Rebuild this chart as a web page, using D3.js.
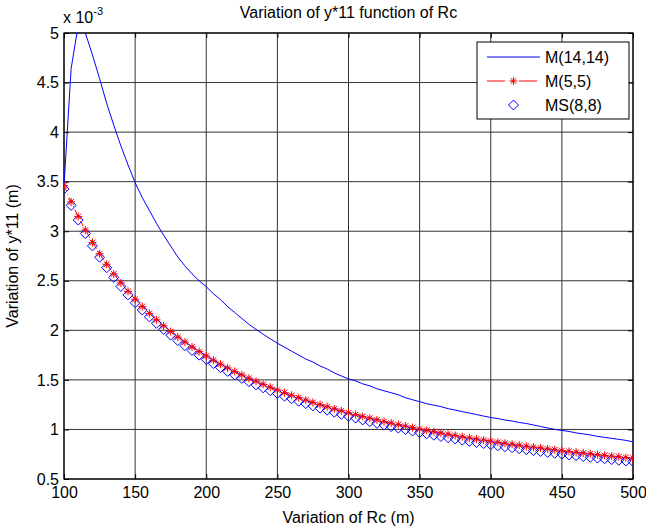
<!DOCTYPE html>
<html>
<head>
<meta charset="utf-8">
<script src="https://cdn.jsdelivr.net/npm/d3@7"></script>
<style>
  body { margin: 0; background: #fff; }
  text { font-family: "Liberation Sans", Arial, sans-serif; fill: #000; }
</style>
</head>
<body>
<div id="chart"></div>
<script>
// Rc values (m)
const rc = [100, 105, 110, 115, 120, 125, 130, 135, 140, 145, 150, 155, 160, 165, 170, 175, 180, 185, 190, 195,
    200, 205, 210, 215, 220, 225, 230, 235, 240, 245, 250, 255, 260, 265, 270, 275, 280, 285, 290, 295,
    300, 305, 310, 315, 320, 325, 330, 335, 340, 345, 350, 355, 360, 365, 370, 375, 380, 385, 390, 395,
    400, 405, 410, 415, 420, 425, 430, 435, 440, 445, 450, 455, 460, 465, 470, 475, 480, 485, 490, 495, 500];

// y*11 in units of 1e-3 m
const m14 = [3.46, 4.64, 5.08, 5.00, 4.78, 4.54, 4.29, 4.07, 3.86, 3.67, 3.49, 3.34, 3.21, 3.08, 2.96, 2.85, 2.74, 2.65, 2.57, 2.50,
    2.44, 2.37, 2.31, 2.24, 2.18, 2.12, 2.06, 2.01, 1.96, 1.915, 1.87, 1.83, 1.79, 1.75, 1.71, 1.68, 1.64, 1.61, 1.57, 1.54,
    1.51, 1.49, 1.46, 1.44, 1.41, 1.39, 1.37, 1.35, 1.32, 1.30, 1.28, 1.26, 1.245, 1.23, 1.21, 1.195, 1.18, 1.165, 1.15, 1.135,
    1.12, 1.11, 1.095, 1.085, 1.07, 1.06, 1.045, 1.03, 1.015, 1.00, 0.99, 0.98, 0.965, 0.955, 0.945, 0.93, 0.92, 0.91, 0.90, 0.89, 0.875];

const m5 = [3.460, 3.296, 3.148, 3.012, 2.887, 2.773, 2.667, 2.569, 2.478, 2.393, 2.314, 2.240, 2.171, 2.106, 2.045, 1.987, 1.932, 1.881, 1.832, 1.785,
    1.741, 1.699, 1.659, 1.621, 1.585, 1.550, 1.517, 1.485, 1.455, 1.426, 1.398, 1.371, 1.345, 1.320, 1.296, 1.273, 1.250, 1.229, 1.208, 1.188,
    1.168, 1.150, 1.131, 1.114, 1.097, 1.080, 1.064, 1.049, 1.034, 1.019, 1.005, 0.991, 0.977, 0.964, 0.952, 0.939, 0.927, 0.915, 0.904, 0.893,
    0.882, 0.871, 0.861, 0.851, 0.841, 0.831, 0.822, 0.813, 0.804, 0.795, 0.786, 0.778, 0.770, 0.762, 0.754, 0.746, 0.739, 0.731, 0.724, 0.717, 0.710];

const ms8 = [3.425, 3.261, 3.113, 2.977, 2.852, 2.738, 2.632, 2.534, 2.443, 2.358, 2.279, 2.205, 2.136, 2.071, 2.010, 1.952, 1.897, 1.846, 1.797, 1.750,
    1.706, 1.664, 1.624, 1.586, 1.550, 1.515, 1.482, 1.450, 1.420, 1.391, 1.363, 1.336, 1.310, 1.285, 1.261, 1.238, 1.215, 1.194, 1.173, 1.153,
    1.133, 1.115, 1.096, 1.079, 1.062, 1.045, 1.029, 1.014, 0.999, 0.984, 0.970, 0.956, 0.942, 0.929, 0.917, 0.904, 0.892, 0.880, 0.869, 0.858,
    0.847, 0.836, 0.826, 0.816, 0.806, 0.796, 0.787, 0.778, 0.769, 0.760, 0.751, 0.743, 0.735, 0.727, 0.719, 0.711, 0.704, 0.696, 0.689, 0.682, 0.675];

const xTicks = [100, 150, 200, 250, 300, 350, 400, 450, 500];
const yTicks = [0.5, 1, 1.5, 2, 2.5, 3, 3.5, 4, 4.5, 5];
const legendNames = ["M(14,14)", "M(5,5)", "MS(8,8)"];

const width = 646, height = 531;
const margin = {top: 33, right: 13, bottom: 52, left: 64};

const svg = d3.select("#chart")
    .append("svg")
    .attr("width", width)
    .attr("height", height);

const x = d3.scaleLinear().domain([100, 500]).range([margin.left, width - margin.right]);
const y = d3.scaleLinear().domain([0.5, 5]).range([height - margin.bottom, margin.top]);

svg.append("clipPath").attr("id", "clip")
    .append("rect")
    .attr("x", x(100)).attr("y", y(5))
    .attr("width", x(500) - x(100)).attr("height", y(0.5) - y(5));

// grid
svg.append("g").selectAll("line").data(xTicks).enter().append("line")
    .attr("x1", d => x(d)).attr("x2", d => x(d))
    .attr("y1", y(0.5)).attr("y2", y(5))
    .attr("stroke", "#333").attr("stroke-width", 1);
svg.append("g").selectAll("line").data(yTicks).enter().append("line")
    .attr("x1", x(100)).attr("x2", x(500))
    .attr("y1", d => y(d)).attr("y2", d => y(d))
    .attr("stroke", "#333").attr("stroke-width", 1);

// axes with inward ticks
const fs = "16px";
svg.append("g").attr("transform", `translate(0,${y(0.5)})`)
    .call(d3.axisBottom(x).tickValues(xTicks).tickSize(-5).tickPadding(8).tickSizeOuter(0));
svg.append("g").attr("transform", `translate(${x(100)},0)`)
    .call(d3.axisLeft(y).tickValues(yTicks).tickSize(-5).tickPadding(5).tickSizeOuter(0).tickFormat(d3.format("")));
svg.append("g").attr("transform", `translate(0,${y(5)})`)
    .call(d3.axisTop(x).tickValues(xTicks).tickSize(-5).tickSizeOuter(0).tickFormat(""));
svg.append("g").attr("transform", `translate(${x(500)},0)`)
    .call(d3.axisRight(y).tickValues(yTicks).tickSize(-5).tickSizeOuter(0).tickFormat(""));
svg.selectAll(".domain").remove();
svg.selectAll(".tick line").attr("stroke", "#000");
svg.selectAll(".tick text").style("font-size", fs).style("font-family", "Liberation Sans, Arial, sans-serif");

// box
svg.append("rect")
    .attr("x", x(100)).attr("y", y(5))
    .attr("width", x(500) - x(100)).attr("height", y(0.5) - y(5))
    .attr("fill", "none").attr("stroke", "#000").attr("stroke-width", 1.2);

const plot = svg.append("g").attr("clip-path", "url(#clip)");
const line = d3.line().x((d, i) => x(rc[i])).y(d => y(d));

plot.append("path").datum(m14)
    .attr("d", line).attr("fill", "none").attr("stroke", "#0000ff").attr("stroke-width", 1);

function starPath(cx, cy, r) {
    const a = r * 0.72;
    return `M${cx - r},${cy}L${cx + r},${cy}M${cx},${cy - r}L${cx},${cy + r}` +
        `M${cx - a},${cy - a}L${cx + a},${cy + a}M${cx - a},${cy + a}L${cx + a},${cy - a}`;
}
function diamondPath(cx, cy, r) {
    return `M${cx},${cy - r}L${cx + r},${cy}L${cx},${cy + r}L${cx - r},${cy}Z`;
}

plot.append("path").datum(m5)
    .attr("d", line).attr("fill", "none").attr("stroke", "#ff0000").attr("stroke-width", 1)
    .attr("stroke-dasharray", "6,3,1,3");

plot.append("g").selectAll("path").data(ms8).enter().append("path")
    .attr("d", (d, i) => diamondPath(x(rc[i]), y(d), 5))
    .attr("fill", "none").attr("stroke", "#0000ff").attr("stroke-width", 1);

plot.append("g").selectAll("path").data(m5).enter().append("path")
    .attr("d", (d, i) => starPath(x(rc[i]), y(d), 4))
    .attr("fill", "none").attr("stroke", "#ff0000").attr("stroke-width", 1);

// exponent label
const expo = svg.append("text").attr("x", 63).attr("y", 23).style("font-size", fs);
expo.append("tspan").text("x 10");
expo.append("tspan").attr("dy", -8).style("font-size", "11px").text("-3");

// title and axis labels
svg.append("text").attr("x", (x(100) + x(500)) / 2).attr("y", 18)
    .attr("text-anchor", "middle").style("font-size", fs)
    .text("Variation of y*11 function of Rc");
svg.append("text").attr("x", (x(100) + x(500)) / 2).attr("y", 523)
    .attr("text-anchor", "middle").style("font-size", fs)
    .text("Variation of Rc (m)");
svg.append("text")
    .attr("transform", `translate(18,${(y(0.5) + y(5)) / 2}) rotate(-90)`)
    .attr("text-anchor", "middle").style("font-size", fs)
    .text("Variation of y*11 (m)");

// legend
const lg = svg.append("g");
lg.append("rect").attr("x", 477).attr("y", 42).attr("width", 152).attr("height", 77)
    .attr("fill", "#fff").attr("stroke", "#000").attr("stroke-width", 1);
const rows = [57, 81, 105];
lg.append("line").attr("x1", 487).attr("x2", 540).attr("y1", rows[0]).attr("y2", rows[0])
    .attr("stroke", "#0000ff");
lg.append("line").attr("x1", 487).attr("x2", 540).attr("y1", rows[1]).attr("y2", rows[1])
    .attr("stroke", "#ff0000").attr("stroke-dasharray", "18,6,2,6");
lg.append("path").attr("d", starPath(513.5, rows[1], 4)).attr("fill", "none").attr("stroke", "#ff0000");
lg.append("path").attr("d", diamondPath(513.5, rows[2], 5)).attr("fill", "none").attr("stroke", "#0000ff");
lg.selectAll("text.lab").data(legendNames).enter().append("text")
    .attr("class", "lab")
    .attr("x", 545).attr("y", (d, i) => rows[i] + 6)
    .style("font-size", fs)
    .text(d => d);
</script>
</body>
</html>
